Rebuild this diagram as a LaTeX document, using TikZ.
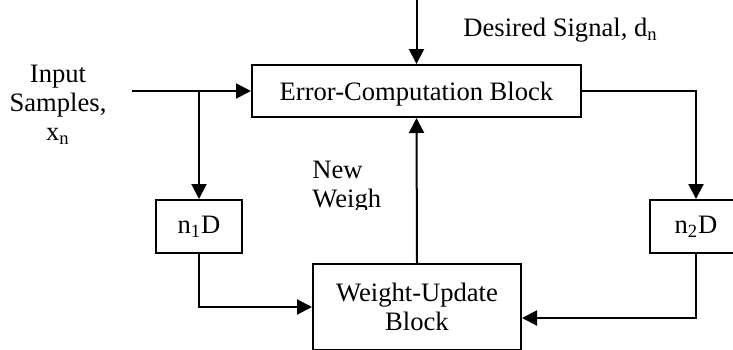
\documentclass[tikz,border=0pt]{standalone}
\usepackage{fontspec}
\setmainfont{Liberation Serif}
\usetikzlibrary{arrows.meta,positioning,calc}

\tikzset{
  blk/.style={draw=black, line width=1pt, rectangle, inner sep=0pt, align=center},
  lbl/.style={inner sep=0pt, align=center},
  conn/.style={line width=1pt, -{Triangle[length=7.5pt,width=7.5pt]}},
  wire/.style={line width=1pt}
}

\begin{document}
\begin{tikzpicture}[x=0.5pt,y=-0.5pt,font=\fontsize{13.3}{14.5}\selectfont]
	\useasboundingbox (0,0) rectangle (733,349);
	\clip (0,0) rectangle (733,349);

	% blocks
	\node (err) [blk, minimum width=164.5pt, minimum height=26pt, text height=10pt, text depth=1pt] at (416.5,91) {Error-Computation Block};
	\node (nA) [blk, minimum width=43pt, minimum height=26.5pt] at (199,226.5) {n\textsubscript{1}D};
	\node (nB) [blk, minimum width=46pt, minimum height=26.5pt] at (696,226.5) {n\textsubscript{2}D};
	\node (wu) [blk, minimum width=104pt, minimum height=43pt] at (417,307) {Weight-Update\\Block};

	% free ends
	\coordinate (ds) at (416.5,-4);
	\coordinate (xin) at (132,91);

	% texts
	\node (inlbl) [lbl, anchor=base] at (58,140) {Input\\Samples,\\x\textsubscript{n}};
	\node (dslbl) [lbl, anchor=base west] at (463,36) {Desired Signal, d\textsubscript{n}};
	\begin{scope}
		\clip (280,140) rectangle (400,209);
		\node (nwlbl) [lbl, align=left, anchor=base west] at (312,207) {New\\Weigh};
	\end{scope}

	% connectors
	\draw[conn] (ds) -- (err.north);
	\draw[conn] (xin) -- (err.west);
	\draw[conn] (nA.north |- xin) -- (nA.north);
	\draw[conn] (nA.south) |- (wu.west);
	\draw[conn] (wu.north) -- (err.south);
	\draw[conn] (err.east) -| (nB.north);
	\draw[conn] (nB.south) |- ([yshift=-5.5pt]wu.east);
\end{tikzpicture}
\end{document}
